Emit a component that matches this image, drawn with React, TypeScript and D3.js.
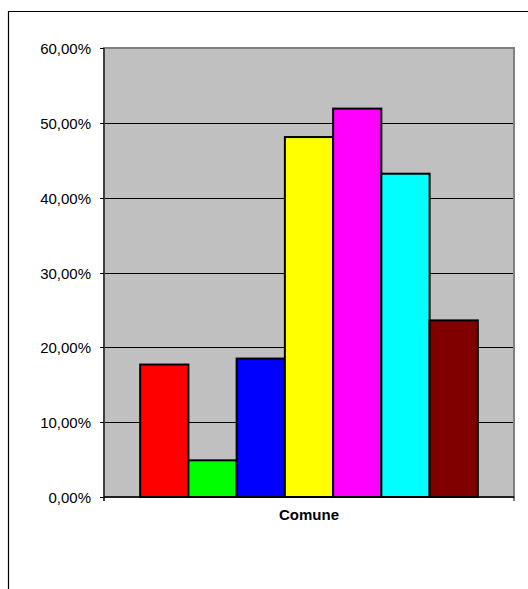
import React from "react";
import * as d3 from "d3";

const categories = ["Comune"];
const seriesNames = ["S1", "S2", "S3", "S4", "S5", "S6", "S7"];
const seriesValues = [0.177, 0.049, 0.185, 0.481, 0.519, 0.432, 0.236];
const seriesColors = ["#ff0000", "#00ff00", "#0000ff", "#ffff00", "#ff00ff", "#00ffff", "#800000"];
const yTicks = [0, 0.1, 0.2, 0.3, 0.4, 0.5, 0.6];

const W = 528;
const H = 589;
const plot = { left: 104, right: 514, top: 48, bottom: 497 };

const locale = d3.formatLocale({ decimal: ",", thousands: ".", grouping: [3], currency: ["€", ""] });
const fmt = locale.format(".2%");

export default function App() {
  const y = d3.scaleLinear().domain([0, 0.6]).range([plot.bottom, plot.top]);
  const x0 = d3
    .scaleBand<string>()
    .domain(categories)
    .range([plot.left, plot.right])
    .paddingInner(0)
    .paddingOuter(0.75 / 7);
  const x1 = d3.scaleBand<string>().domain(seriesNames).range([0, x0.bandwidth()]).padding(0);
  const font = "'Liberation Sans', Arial, sans-serif";

  return (
    <div style={{ position: "fixed", left: 0, top: 0, width: W, height: H, overflow: "hidden", background: "white" }}>
      <svg width={W} height={H} style={{ display: "block" }}>
        <path d={`M8.5,${H + 5} L8.5,11.5 L${W + 5},11.5`} fill="none" stroke="#000" strokeWidth={1.2} />
        <rect
          x={plot.left}
          y={plot.top}
          width={plot.right - plot.left}
          height={plot.bottom - plot.top}
          fill="#c0c0c0"
          stroke="#808080"
          strokeWidth={2}
        />
        {yTicks.slice(1, -1).map((t) => (
          <line key={t} x1={plot.left} x2={plot.right - 1} y1={Math.round(y(t)) + 0.5} y2={Math.round(y(t)) + 0.5} stroke="#000" strokeWidth={1} />
        ))}
        {categories.map((c) =>
          seriesNames.map((s, i) => {
            const bx = (x0(c) ?? 0) + (x1(s) ?? 0);
            return (
              <rect
                key={c + s}
                x={bx}
                y={y(seriesValues[i])}
                width={x1.bandwidth()}
                height={plot.bottom - y(seriesValues[i])}
                fill={seriesColors[i]}
                stroke="#000"
                strokeWidth={2}
              />
            );
          })
        )}
        <line x1={plot.left} x2={plot.left} y1={plot.top} y2={plot.bottom + 4} stroke="#404040" strokeWidth={2} />
        <line x1={plot.left} x2={plot.right} y1={plot.bottom} y2={plot.bottom} stroke="#000" strokeWidth={1.5} />
        <line x1={plot.right} x2={plot.right} y1={plot.bottom} y2={plot.bottom + 4} stroke="#000" strokeWidth={1} />
        {yTicks.map((t) => (
          <g key={t}>
            <line x1={plot.left - 4} x2={plot.left} y1={Math.round(y(t)) + 0.5} y2={Math.round(y(t)) + 0.5} stroke="#000" strokeWidth={1} />
            <text x={91} y={y(t) + 6} textAnchor="end" fontFamily={font} fontSize={15} fill="#000">
              {fmt(t)}
            </text>
          </g>
        ))}
        {categories.map((c) => (
          <text
            key={c}
            x={(x0(c) ?? 0) + x0.bandwidth() / 2}
            y={520}
            textAnchor="middle"
            fontFamily={font}
            fontSize={15}
            fontWeight="bold"
            fill="#000"
          >
            {c}
          </text>
        ))}
      </svg>
    </div>
  );
}
